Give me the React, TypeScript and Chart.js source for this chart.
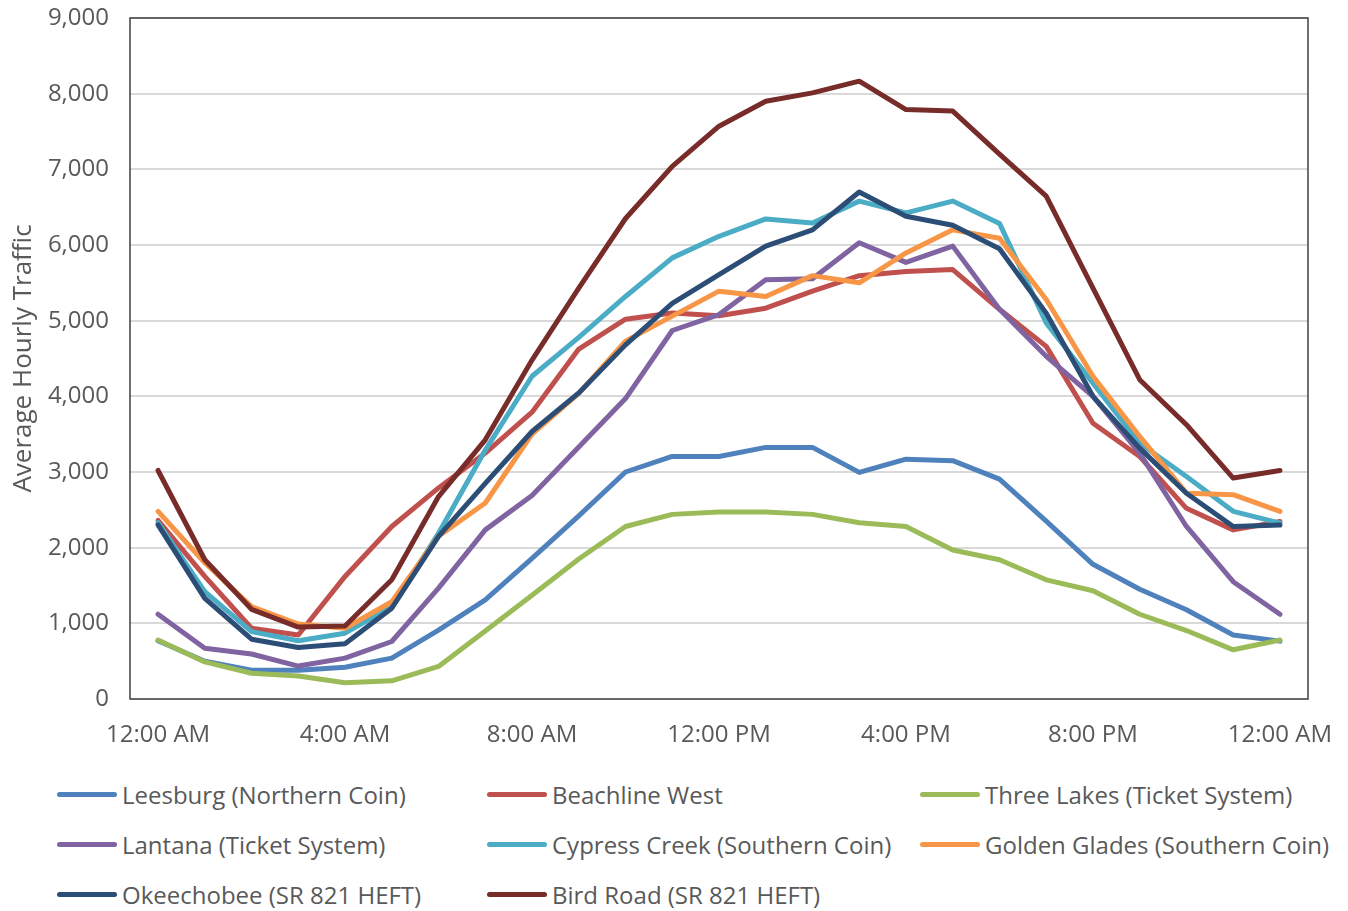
import React, { useEffect, useRef } from "react";
import { Chart, registerables } from "chart.js";

Chart.register(...registerables);

const tickHours = [0, 4, 8, 12, 16, 20, 24];
const tickLabels = ["12:00 AM", "4:00 AM", "8:00 AM", "12:00 PM", "4:00 PM", "8:00 PM", "12:00 AM"];
const yTitle = "Average Hourly Traffic";

const seriesNames = [
  "Leesburg (Northern Coin)",
  "Beachline West",
  "Three Lakes (Ticket System)",
  "Lantana (Ticket System)",
  "Cypress Creek (Southern Coin)",
  "Golden Glades (Southern Coin)",
  "Okeechobee (SR 821 HEFT)",
  "Bird Road (SR 821 HEFT)",
];

const seriesColors = ["#4F81BD", "#C0504D", "#9BBB59", "#8064A2", "#4BACC6", "#F79646", "#2C4D75", "#772C2A"];

const leesburg = [770, 500, 380, 380, 420, 540, 910, 1310, 1860, 2420, 3000, 3205, 3205, 3325, 3325, 2995, 3170, 3150, 2905, 2350, 1780, 1450, 1180, 845, 765];
const beachlineWest = [2360, 1620, 935, 845, 1620, 2280, 2790, 3250, 3790, 4625, 5020, 5100, 5065, 5165, 5390, 5595, 5650, 5675, 5150, 4660, 3645, 3205, 2520, 2235, 2345];
const threeLakes = [780, 490, 340, 305, 215, 240, 430, 900, 1370, 1850, 2280, 2440, 2470, 2470, 2440, 2330, 2280, 1970, 1840, 1575, 1430, 1120, 905, 650, 780];
const lantana = [1120, 670, 595, 435, 540, 760, 1465, 2235, 2690, 3330, 3970, 4870, 5080, 5540, 5555, 6030, 5770, 5985, 5150, 4530, 4000, 3250, 2280, 1550, 1120];
const cypressCreek = [2330, 1420, 890, 770, 870, 1220, 2190, 3290, 4265, 4780, 5320, 5830, 6115, 6345, 6290, 6580, 6425, 6580, 6285, 4970, 4175, 3380, 2940, 2480, 2325];
const goldenGlades = [2480, 1800, 1220, 990, 935, 1285, 2150, 2590, 3500, 4040, 4730, 5060, 5390, 5320, 5595, 5500, 5895, 6200, 6090, 5280, 4265, 3470, 2720, 2700, 2480];
const okeechobee = [2300, 1330, 790, 680, 730, 1200, 2150, 2850, 3535, 4045, 4680, 5230, 5610, 5985, 6200, 6700, 6380, 6260, 5950, 5100, 4000, 3315, 2720, 2280, 2300];
const birdRoad = [3020, 1840, 1185, 950, 965, 1575, 2675, 3425, 4480, 5430, 6350, 7040, 7570, 7900, 8010, 8165, 7790, 7770, 7200, 6645, 5430, 4220, 3625, 2920, 3020];

const allSeries = [leesburg, beachlineWest, threeLakes, lantana, cypressCreek, goldenGlades, okeechobee, birdRoad];

const FONT = "'Open Sans', 'Liberation Sans', sans-serif";
const TEXT = "#595959";

const borderPlugin = {
  id: "plotBorder",
  beforeDatasetsDraw(chart: any) {
    const { ctx, chartArea } = chart;
    ctx.save();
    ctx.strokeStyle = "#404040";
    ctx.lineWidth = 1.5;
    ctx.strokeRect(chartArea.left, chartArea.top, chartArea.right - chartArea.left, chartArea.bottom - chartArea.top);
    ctx.restore();
  },
};

export default function App() {
  const canvasRef = useRef<HTMLCanvasElement | null>(null);

  useEffect(() => {
    document.body.style.margin = "0";
    if (!canvasRef.current) return;
    const chart = new Chart(canvasRef.current, {
      type: "line",
      data: {
        datasets: allSeries.map((vals, i) => ({
          label: seriesNames[i],
          data: vals.map((v, h) => ({ x: h, y: v })),
          borderColor: seriesColors[i],
          backgroundColor: seriesColors[i],
          borderWidth: 5,
          pointRadius: 0,
          tension: 0,
          borderJoinStyle: "round" as const,
          borderCapStyle: "round" as const,
          order: allSeries.length - i,
        })),
      },
      options: {
        responsive: false,
        devicePixelRatio: 1,
        animation: false,
        layout: { padding: { left: 8, right: 40, top: 18, bottom: 0 } },
        plugins: { legend: { display: false }, tooltip: { enabled: false } },
        scales: {
          x: {
            type: "linear",
            min: -0.6,
            max: 24.6,
            afterBuildTicks: (scale: any) => {
              scale.ticks = tickHours.map((v) => ({ value: v }));
            },
            ticks: {
              autoSkip: false,
              maxRotation: 0,
              padding: 22,
              color: TEXT,
              font: { family: FONT, size: 24 },
              callback: (value: any) => {
                const idx = tickHours.indexOf(Number(value));
                return idx >= 0 ? tickLabels[idx] : "";
              },
            },
            grid: { display: false, drawTicks: false },
            border: { display: false },
            afterFit: (scale: any) => {
              scale.height = 60;
              scale.paddingLeft = 0;
              scale.paddingRight = 0;
            },
          },
          y: {
            min: 0,
            max: 9000,
            ticks: {
              stepSize: 1000,
              padding: 21,
              color: TEXT,
              font: { family: FONT, size: 24 },
              callback: (value: any) => Number(value).toLocaleString("en-US"),
            },
            grid: { color: "#D9D9D9", lineWidth: 2, drawTicks: false },
            border: { display: false },
            title: {
              display: true,
              text: yTitle,
              color: TEXT,
              font: { family: FONT, size: 26 },
              padding: { top: 0, bottom: 0 },
            },
            afterFit: (scale: any) => {
              scale.width = 122;
              scale.paddingTop = 0;
              scale.paddingBottom = 0;
            },
          },
        },
      },
      plugins: [borderPlugin],
    });
    return () => chart.destroy();
  }, []);

  return (
    <div style={{ position: "relative", width: 1348, height: 911, background: "#fff", overflow: "hidden" }}>
      <canvas ref={canvasRef} width={1348} height={759} style={{ position: "absolute", left: 0, top: 0 }} />
      <div
        style={{
          position: "absolute",
          left: 57,
          top: 769,
          display: "grid",
          gridTemplateColumns: "430px 433px auto",
          gridAutoRows: "50px",
          fontFamily: FONT,
          fontSize: 24,
          color: TEXT,
        }}
      >
        {seriesNames.map((name, i) => (
          <div key={name} style={{ display: "flex", alignItems: "center", whiteSpace: "nowrap" }}>
            <span
              style={{
                display: "inline-block",
                width: 60,
                height: 5,
                borderRadius: 2.5,
                background: seriesColors[i],
                marginRight: 5,
              }}
            />
            <span>{name}</span>
          </div>
        ))}
      </div>
    </div>
  );
}
